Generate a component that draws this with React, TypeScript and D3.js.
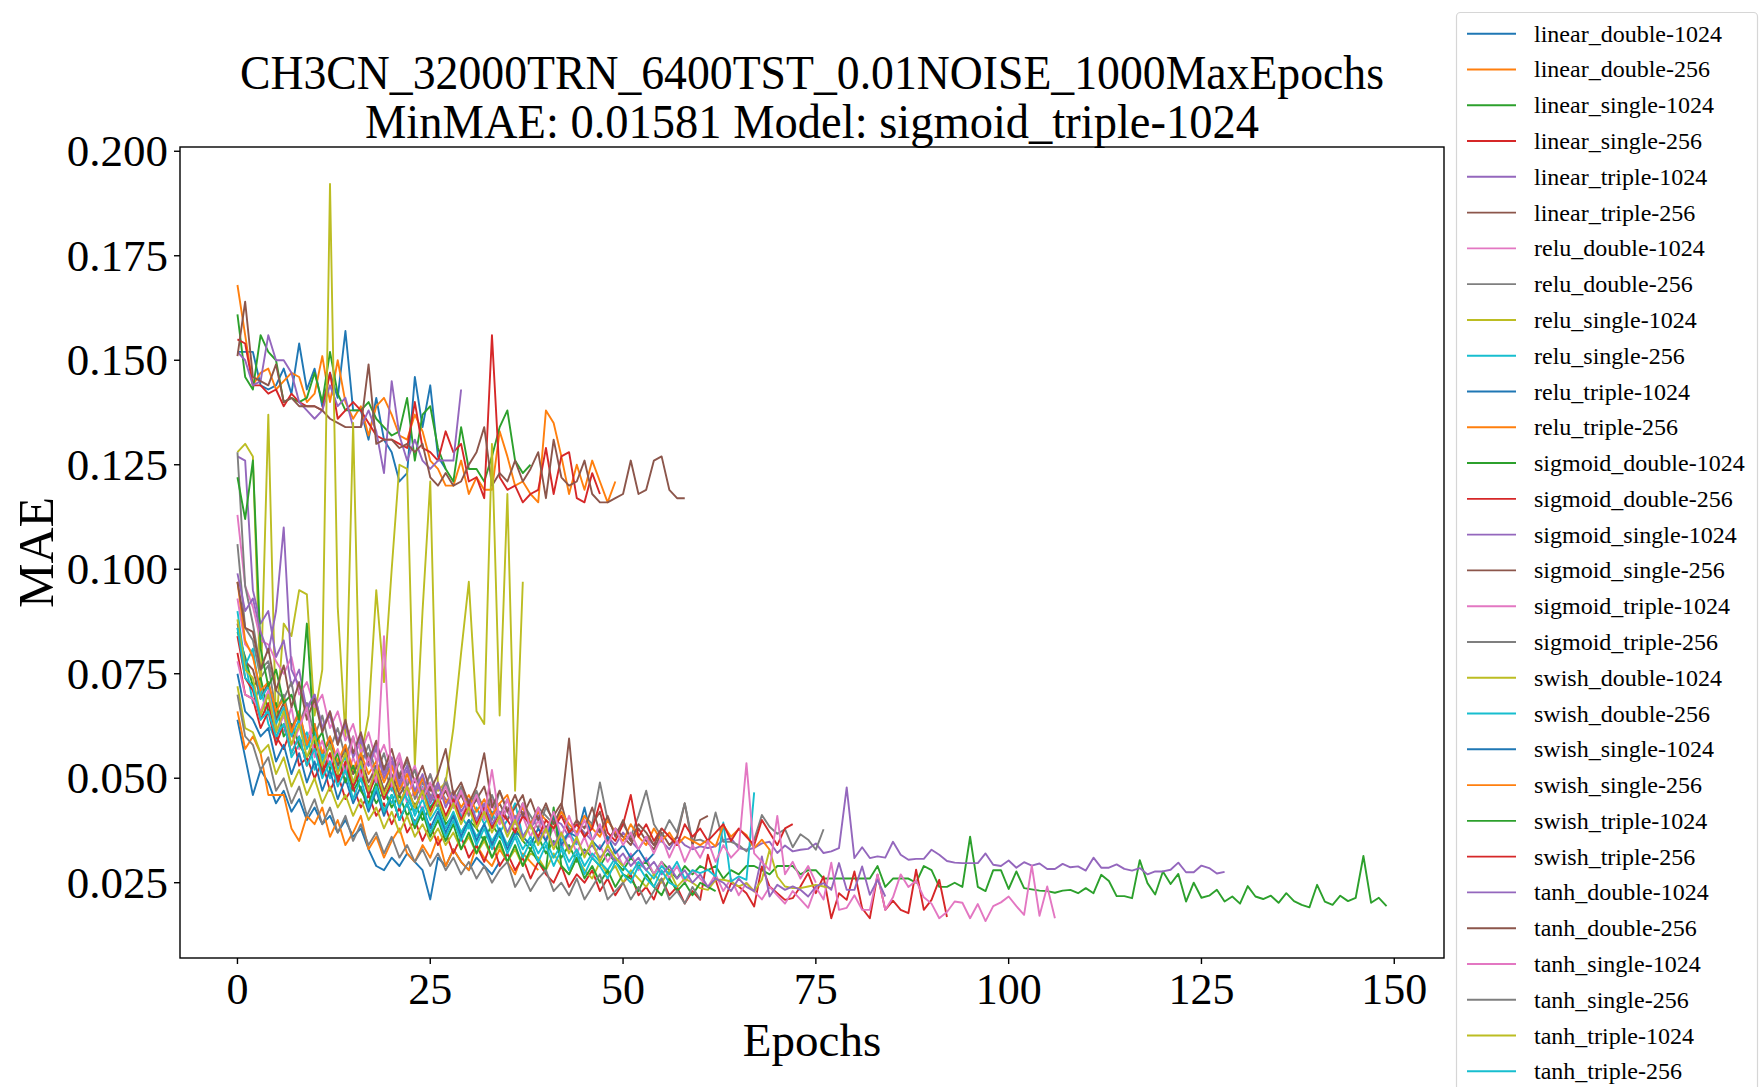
import React from 'react';
import * as d3 from 'd3';

// ---- Title / labels ----
const titleLine1 = 'CH3CN_32000TRN_6400TST_0.01NOISE_1000MaxEpochs';
const titleLine2 = 'MinMAE: 0.01581 Model: sigmoid_triple-1024';
const xLabel = 'Epochs';
const yLabel = 'MAE';
const xTicks = [0, 25, 50, 75, 100, 125, 150];
const yTicks = [0.025, 0.05, 0.075, 0.1, 0.125, 0.15, 0.175, 0.2];
const yTickLabels = ['0.025', '0.050', '0.075', '0.100', '0.125', '0.150', '0.175', '0.200'];

// ---- Series (MAE per epoch) ----
const linear_double_1024 = [.152,.152,.152,.144,.143,.144,.148,.142,.154,.143,.148,.139,.147,.141,.157,.138,.138,.131,.141,.131,.128,.121,.123,.146,.134,.144,.127,.124];
const linear_double_256 = [.168,.156,.144,.147,.148,.143,.145,.147,.146,.140,.142,.151,.140,.150,.140,.136,.139,.132,.139,.141,.137,.132,.131,.137,.133,.126,.124,.120,.120,.126,.118,.122,.119,.119,.133,.127,.120,.121,.118,.116,.138,.135,.127,.118,.125,.119,.126,.121,.116,.121];
const linear_single_1024 = [.161,.146,.143,.156,.152,.150,.140,.141,.140,.141,.147,.140,.152,.142,.138,.138,.138,.140,.136,.134,.132,.133,.141,.126,.137,.139,.129,.124,.121,.134,.124,.124,.121,.127,.134,.138,.126,.123,.125];
const linear_single_256 = [.155,.154,.144,.144,.142,.143,.139,.142,.140,.139,.139,.138,.147,.136,.138,.140,.138,.135,.132,.131,.131,.130,.129,.140,.129,.128,.126,.133,.128,.130,.121,.122,.117,.156,.122,.119,.120,.116,.118,.119,.129,.118,.127,.128,.117,.116,.123,.118];
const linear_triple_1024 = [.152,.150,.144,.145,.156,.150,.150,.147,.140,.138,.136,.138,.144,.139,.141,.134,.134,.138,.133,.123,.145,.132,.126,.131,.126,.124,.126,.126,.126,.143];
const linear_triple_256 = [.151,.164,.146,.145,.144,.149,.140,.141,.139,.139,.139,.138,.136,.135,.134,.134,.134,.149,.130,.131,.131,.129,.130,.128,.130,.122,.120,.123,.120,.121,.125,.128,.134,.120,.123,.121,.126,.121,.124,.128,.117,.131,.122,.120,.121,.126,.118,.116,.116,.117,.118,.126,.118,.119,.126,.127,.119,.117,.117];
const relu_double_1024 = [.093,.082,.080,.069,.072,.066,.061,.067,.057,.060,.063,.052,.056,.054,.049,.055,.050,.047,.053,.045,.049,.051,.044,.047,.042,.048,.043,.040,.046,.041,.044,.038,.042,.045,.039,.041];
const relu_double_256 = [.106,.086,.083,.074,.077,.066,.070,.062,.066,.058,.063,.055,.060,.053,.058,.051,.055,.056,.049,.053,.047,.051,.054,.045,.049,.046,.043,.050,.044,.047,.041,.046,.043,.040,.047,.042,.039,.044,.041,.038,.043,.040];
const relu_single_1024 = [.128,.130,.127,.070,.137,.062,.087,.084,.095,.094,.065,.076,.1922,.091,.060,.135,.055,.065,.095,.073,.100,.125,.124,.053,.090,.121,.047,.049,.062,.080,.097,.066,.063,.130,.065,.118,.047,.097];
const relu_single_256 = [.086,.078,.068,.072,.063,.059,.066,.055,.058,.061,.052,.056,.050,.054,.057,.048,.051,.046,.053,.047,.044,.049,.045,.042,.048,.043,.046,.040,.044,.041,.038,.043,.039,.042,.037,.040,.044,.036,.039,.035,.038,.041,.035,.037,.034];
const relu_triple_1024 = [.064,.055,.046,.052,.049,.044,.047,.042,.045,.040,.043,.039,.041,.037,.040,.036,.038,.033,.029,.028,.031,.029,.032,.030,.028,.021,.031,.029,.033,.030,.028,.031,.029,.027,.030];
const relu_triple_256 = [.066,.057,.060,.056,.046,.046,.046,.038,.035,.041,.039,.043,.036,.040,.034,.037,.041,.033,.036,.031,.035,.038,.032,.030,.034,.031,.036,.029,.033,.030,.028,.034,.031,.029,.033,.030,.027,.032,.030,.028];
const sigmoid_double_1024 = [.085,.079,.072,.074,.066,.068,.060,.063,.058,.055,.058,.052,.054,.050,.053,.047,.050,.048,.044,.047,.043,.046,.041,.044,.040,.043,.045,.039,.041,.037,.040,.038,.035,.039,.036,.034,.038,.035,.033,.036,.032,.035,.031,.034,.030,.033,.031,.029,.032,.030,.028,.031,.029,.030,.027,.030,.028,.026,.029,.027,.029,.028,.029,.026,.028,.027,.029,.029,.028,.027,.029,.029,.029,.027,.028,.028,.026,.026,.026,.026,.026,.026,.026,.029,.024,.026,.026,.026,.025,.029,.028,.024,.024,.025,.024,.036,.024,.023,.028,.028,.0235,.0277,.0237,.0234,.0231,.0230,.0226,.0231,.0233,.0225,.0237,.0225,.0269,.0254,.0218,.0218,.0213,.0304,.0249,.0222,.0277,.0247,.0271,.0205,.0250,.0214,.0219,.0233,.0205,.0217,.0200,.0242,.0217,.0211,.0219,.0202,.0225,.0206,.0197,.0191,.0245,.0205,.0197,.0219,.0206,.0214,.0314,.0202,.0214,.0194];
const sigmoid_double_256 = [.084,.074,.071,.064,.068,.060,.057,.062,.053,.055,.050,.054,.047,.051,.045,.048,.043,.046,.041,.044,.039,.043,.037,.040,.035,.039,.034,.037,.032,.036,.031,.034,.030,.035,.029,.032,.028,.031,.026,.030,.027,.025,.029,.024,.027,.025,.028,.023,.026,.022,.025,.027,.022,.024,.021,.026,.022,.024,.020,.023,.0209,.0317,.0257,.0201,.0249,.0241,.0225,.0193,.0289,.0241,.0225,.0209,.0213,.0241,.0273,.0225,.0265,.0165,.0225,.0209,.0277,.0189,.0165,.0269,.0185,.0207,.0185,.0177,.0281,.0185,.0209,.0257,.0168];
const sigmoid_single_1024 = [.127,.126,.095,.087,.090,.079,.083,.072,.076,.066,.070,.062,.065,.058,.063,.055,.059,.053,.057,.050,.054,.048,.052,.046,.050,.044,.048,.045,.043,.047,.042,.045,.041,.044,.040,.043,.039,.042,.038,.041,.037,.040,.039,.036,.039,.037,.035,.038,.036,.034,.037,.035,.033,.036,.034,.035,.033,.036,.034,.033,.0337,.0333,.0337,.0352,.0356,.0333,.0329,.0333,.0344,.0348,.0321,.0339,.0325,.0329,.0331,.0344,.0321,.0325,.0333,.0478,.0309,.0335,.0309,.0313,.0310,.0348,.0317,.0305,.0307,.0307,.0329,.0317,.0302,.0298,.0297,.0297,.0297,.0320,.0293,.0290,.0303,.0286,.0299,.0291,.0296,.0283,.0283,.0295,.0287,.0289,.0279,.0310,.0286,.0286,.0294,.0283,.0279,.0285,.0270,.0277,.0277,.0281,.0298,.0275,.0275,.0291,.0285,.0272,.0276];
const sigmoid_single_256 = [.087,.078,.076,.069,.073,.064,.068,.062,.065,.058,.062,.056,.059,.053,.057,.051,.055,.049,.053,.047,.051,.046,.049,.052,.045,.048,.044,.047,.043,.046,.042,.045,.048,.041,.044,.040,.043,.046,.039,.042,.038,.041,.044,.037,.040,.036,.039,.042,.035,.038,.036,.034,.038,.035,.033,.037,.034,.036,.044,.034,.040,.041];
const sigmoid_triple_1024 = [.113,.096,.091,.083,.082,.078,.075,.079,.070,.073,.067,.070,.062,.066,.059,.063,.056,.061,.054,.058,.052,.056,.049,.053,.047,.051,.045,.049,.043,.047,.042,.046,.040,.044,.039,.043,.037,.041,.036,.040,.035,.038,.033,.037,.032,.036,.031,.034,.030,.033,.029,.032,.028,.031,.027,.030,.026,.029,.025,.028,.026,.024,.027,.023,.026,.022,.025,.023,.021,.024,.022,.020,.023,.021,.019,.024,.021,.0298,.0185,.019,.022,.0185,.0185,.027,.0185,.0215,.027,.024,.0255,.0215,.020,.0165,.018,.0205,.0202,.0165,.0199,.01581,.0194,.0203,.0217,.0194,.0173,.0291,.0171,.0241,.0165];
const sigmoid_triple_256 = [.128,.096,.087,.076,.078,.071,.069,.073,.063,.068,.060,.065,.057,.062,.055,.060,.053,.058,.051,.056,.049,.054,.048,.052,.046,.051,.045,.049,.044,.048,.043,.047,.042,.046,.041,.045,.040,.044,.039,.043,.041,.039,.042,.038,.037,.041,.039,.049,.040,.037,.039,.036,.041,.047,.039,.036,.040,.037,.044,.035,.0353,.0344,.0418,.0348,.0348,.0340,.0325,.0353,.0412,.0384,.0367,.0378,.0335,.0366,.0353,.0329,.0378];
const swish_double_1024 = [.072,.062,.061,.056,.058,.051,.055,.048,.052,.046,.050,.044,.048,.043,.046,.041,.045,.040,.043,.038,.042,.037,.041,.036,.039,.035,.038,.034,.037,.033,.036,.032,.035,.031,.034,.030,.033,.029,.032,.031,.028,.032,.029,.027,.031,.028,.026,.030,.027,.029,.025,.028,.026,.024,.027,.025,.028,.024,.026,.025,.0237,.0233,.0257,.0257,.0253,.0241,.0249,.0229,.0257,.0329,.0265,.0241,.0237,.0237,.0241,.0245,.0241,.0237];
const swish_double_256 = [.090,.077,.081,.069,.072,.063,.067,.060,.064,.057,.061,.054,.058,.052,.055,.049,.053,.047,.050,.045,.048,.043,.047,.041,.045,.040,.043,.038,.042,.037,.040,.036,.039,.035,.038,.034,.037,.033,.036,.032,.035,.031,.034,.030,.033,.029,.032,.030,.028,.031,.029,.027,.030,.028,.026,.029,.027,.030,.026,.028,.0273,.0281,.0265,.0394,.0253,.0265,.0257,.0466];
const swish_single_1024 = [.075,.066,.064,.060,.062,.054,.058,.051,.056,.049,.054,.047,.052,.045,.050,.044,.048,.042,.047,.041,.046,.040,.044,.039,.043,.038,.042,.037,.041,.036,.040,.035,.039,.034,.038,.033,.037,.036,.034,.038,.035,.041,.034,.037,.036,.043,.035,.033,.036,.032,.034,.031,.033,.030,.032];
const swish_single_256 = [.097,.083,.079,.071,.073,.066,.069,.061,.066,.058,.063,.056,.060,.054,.058,.052,.056,.051,.054,.049,.053,.047,.051,.046,.050,.045,.049,.044,.047,.043,.046,.042,.045,.041,.044,.046,.040,.043,.039,.042,.040,.038,.042,.039,.037,.041,.038,.036,.040,.037,.035,.039,.036,.034,.038,.035,.037,.034,.036,.035,.034,.0353,.0337,.0388,.0360,.0378,.0364,.0333,.0353,.0329];
const swish_triple_1024 = [.122,.112,.126,.081,.072,.076,.068,.070,.064,.087,.058,.061,.052,.056,.049,.053,.047,.044,.049,.042,.046,.040,.044,.038,.042,.036,.040,.035,.039,.033,.037,.032,.036,.031,.035,.030,.034,.029,.033,.030,.028,.043,.029,.027,.031,.026,.029,.025,.028,.024,.027,.026,.023,.027,.024,.022,.026,.023,.025,.022,.025,.024,.023];
const swish_triple_256 = [.080,.070,.069,.062,.066,.058,.063,.056,.060,.053,.058,.051,.056,.049,.054,.048,.052,.046,.051,.045,.049,.044,.048,.043,.047,.042,.046,.041,.045,.040,.044,.039,.043,.038,.042,.040,.037,.041,.039,.036,.040,.038,.041,.037,.039,.036,.038,.044,.037,.035,.039,.046,.036,.039,.035,.038,.036,.034,.039,.036,.038,.035,.037,.039,.035,.038,.036,.034,.040,.037,.034,.038,.039];
const tanh_double_1024 = [.099,.090,.093,.085,.080,.090,.110,.076,.072,.067,.070,.062,.066,.059,.063,.056,.060,.053,.058,.051,.055,.049,.053,.047,.051,.045,.049,.043,.047,.042,.045,.040,.044,.039,.042,.037,.041,.036,.039,.035,.038,.034,.037,.033,.035,.032,.034,.031,.033,.030,.032,.029,.031,.028,.030,.027,.029,.026,.028,.025,.027,.024,.026,.025,.023,.026,.024,.023,.0313,.0217,.0245,.0233,.0241,.0233,.0217,.0241,.0249,.0233,.0297,.0233,.0233,.0289,.0221,.0257,.0217];
const tanh_double_256 = [.097,.086,.085,.076,.081,.071,.077,.067,.073,.064,.069,.061,.066,.058,.064,.056,.061,.054,.059,.052,.057,.050,.055,.049,.053,.047,.051,.057,.046,.049,.044,.048,.056,.043,.047,.042,.046,.041,.045,.040,.044,.039,.043,.0595,.040,.038,.043,.037,.041,.036,.040,.035,.039,.037,.034,.038];
const tanh_single_1024 = [.078,.070,.069,.066,.071,.061,.065,.058,.062,.067,.055,.059,.053,.057,.051,.060,.050,.055,.049,.084,.048,.055,.046,.050,.045,.049,.044,.048,.043,.047,.042,.046,.041,.052,.040,.045,.039,.044,.038,.043,.037,.042,.036,.041,.036,.040,.035,.039,.034,.038,.034,.037,.033,.036,.032,.036,.031,.035,.030,.034,.031,.035,.030,.034,.031,.033,.0536,.032,.030,.028,.041,.027,.030,.026,.029,.025];
const tanh_single_256 = [.070,.060,.058,.052,.055,.047,.050,.044,.048,.041,.045,.039,.043,.037,.041,.035,.039,.034,.037,.032,.036,.031,.034,.030,.033,.029,.032,.028,.031,.027,.030,.026,.029,.025,.028,.030,.024,.027,.023,.026,.028,.023,.025,.022,.026,.021,.024,.027,.021,.023,.025,.021,.024,.020,.023,.026,.021,.023,.020,.024,.021];
const tanh_triple_1024 = [.088,.076,.074,.065,.070,.061,.066,.058,.063,.055,.060,.053,.058,.051,.056,.049,.054,.047,.052,.046,.050,.044,.048,.043,.047,.041,.045,.040,.044,.039,.043,.038,.042,.037,.041,.036,.040,.035,.039,.034,.038,.033,.037,.032,.036,.031,.035,.030,.034,.031,.029];
const tanh_triple_256 = [.086,.074,.072,.064,.066,.060,.063,.056,.060,.053,.057,.050,.054,.048,.052,.045,.050,.043,.048,.042,.046,.040,.044,.039,.043,.037,.041,.036,.040,.035,.039,.034,.038,.033,.037,.032,.036,.031,.035,.030,.034,.029,.033,.028,.032,.027,.031,.029,.026,.030,.027,.025,.029,.026,.024,.028,.025,.024];

const seriesNames = [
  'linear_double-1024', 'linear_double-256', 'linear_single-1024', 'linear_single-256',
  'linear_triple-1024', 'linear_triple-256', 'relu_double-1024', 'relu_double-256',
  'relu_single-1024', 'relu_single-256', 'relu_triple-1024', 'relu_triple-256',
  'sigmoid_double-1024', 'sigmoid_double-256', 'sigmoid_single-1024', 'sigmoid_single-256',
  'sigmoid_triple-1024', 'sigmoid_triple-256', 'swish_double-1024', 'swish_double-256',
  'swish_single-1024', 'swish_single-256', 'swish_triple-1024', 'swish_triple-256',
  'tanh_double-1024', 'tanh_double-256', 'tanh_single-1024', 'tanh_single-256',
  'tanh_triple-1024', 'tanh_triple-256',
];
const seriesValues: number[][] = [
  linear_double_1024, linear_double_256, linear_single_1024, linear_single_256,
  linear_triple_1024, linear_triple_256, relu_double_1024, relu_double_256,
  relu_single_1024, relu_single_256, relu_triple_1024, relu_triple_256,
  sigmoid_double_1024, sigmoid_double_256, sigmoid_single_1024, sigmoid_single_256,
  sigmoid_triple_1024, sigmoid_triple_256, swish_double_1024, swish_double_256,
  swish_single_1024, swish_single_256, swish_triple_1024, swish_triple_256,
  tanh_double_1024, tanh_double_256, tanh_single_1024, tanh_single_256,
  tanh_triple_1024, tanh_triple_256,
];

const FONT = '"Liberation Serif", "DejaVu Serif", serif';

export default function App() {
  const W = 1761, H = 1087;
  const L = 180, R = 1444, T = 147, B = 958;
  const maxLen = d3.max(seriesValues, (s) => s.length) as number;
  const all = seriesValues.flat();
  const yMin = d3.min(all) as number;
  const yMax = d3.max(all) as number;
  const xPad = (maxLen - 1) * 0.05;
  const yPad = (yMax - yMin) * 0.05;
  const x = d3.scaleLinear().domain([-xPad, maxLen - 1 + xPad]).range([L, R]);
  const y = d3.scaleLinear().domain([yMin - yPad, yMax + yPad]).range([B, T]);
  const line = d3.line<number>().x((_, i) => x(i)).y((d) => y(d));
  const colors = d3.schemeCategory10;

  const legX = 1456.5, legY = 12.5, legStep = 35.78, legFirst = 33.7;

  return (
    <svg width={W} height={H} style={{ position: 'fixed', left: 0, top: 0, background: '#fff' }} fontFamily={FONT}>
      <rect x={0} y={0} width={W} height={H} fill="#fff" />
      <text x={(L + R) / 2} y={89} fontSize={48} textAnchor="middle" textLength={1144} lengthAdjust="spacingAndGlyphs">{titleLine1}</text>
      <text x={(L + R) / 2} y={138} fontSize={48} textAnchor="middle" textLength={894} lengthAdjust="spacingAndGlyphs">{titleLine2}</text>

      <defs>
        <clipPath id="plotclip"><rect x={L} y={T} width={R - L} height={B - T} /></clipPath>
      </defs>
      <g clipPath="url(#plotclip)">
        {seriesValues.map((s, i) => (
          <path key={seriesNames[i]} d={line(s) || ''} fill="none" stroke={colors[i % 10]} strokeWidth={1.9} strokeLinejoin="round" />
        ))}
      </g>

      <rect x={L} y={T} width={R - L} height={B - T} fill="none" stroke="#000" strokeWidth={1.4} />

      {xTicks.map((t) => (
        <g key={'x' + t}>
          <line x1={x(t)} x2={x(t)} y1={B} y2={B + 6} stroke="#000" strokeWidth={1.4} />
          <text x={x(t)} y={1004} fontSize={44} textAnchor="middle">{t}</text>
        </g>
      ))}
      {yTicks.map((t, i) => (
        <g key={'y' + t}>
          <line x1={L - 6} x2={L} y1={y(t)} y2={y(t)} stroke="#000" strokeWidth={1.4} />
          <text x={168} y={y(t) + 15} fontSize={45} textAnchor="end">{yTickLabels[i]}</text>
        </g>
      ))}
      <text x={(L + R) / 2} y={1056} fontSize={47} textAnchor="middle">{xLabel}</text>
      <text transform={`translate(53, ${(T + B) / 2}) rotate(-90)`} fontSize={50} textAnchor="middle">{yLabel}</text>

      <rect x={legX} y={legY} width={301} height={1100} rx={4} fill="#fff" stroke="#d6d6d6" strokeWidth={1.2} />
      {seriesNames.map((n, i) => {
        const ly = legFirst + i * legStep;
        return (
          <g key={'leg' + n}>
            <line x1={1467} x2={1516} y1={ly} y2={ly} stroke={colors[i % 10]} strokeWidth={1.9} />
            <text x={1534} y={ly + 8} fontSize={24}>{n}</text>
          </g>
        );
      })}
    </svg>
  );
}
